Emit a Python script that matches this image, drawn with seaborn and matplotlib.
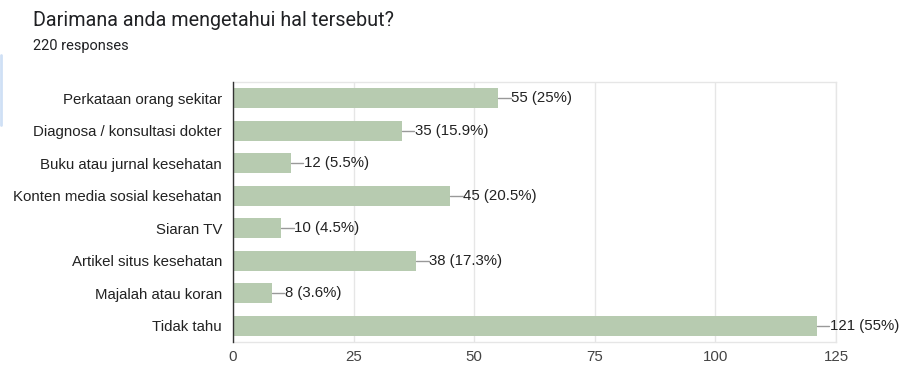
import matplotlib
matplotlib.use("Agg")
import matplotlib.pyplot as plt
import seaborn as sns
import pandas as pd

categories = ["Perkataan orang sekitar", "Diagnosa / konsultasi dokter", "Buku atau jurnal kesehatan",
              "Konten media sosial kesehatan", "Siaran TV", "Artikel situs kesehatan",
              "Majalah atau koran", "Tidak tahu"]
counts = [55, 35, 12, 45, 10, 38, 8, 121]
pct_labels = ["25%", "15.9%", "5.5%", "20.5%", "4.5%", "17.3%", "3.6%", "55%"]
xticks = [0, 25, 50, 75, 100, 125]

sns.set_theme(style="white")
plt.rcParams['font.family'] = ['Liberation Sans', 'DejaVu Sans']

df = pd.DataFrame({"cat": categories, "n": counts})
fig = plt.figure(figsize=(9.05, 3.65), dpi=100)
ax = fig.add_axes([233/905, 1-342/365, (836-233)/905, (342-82)/365])
sns.barplot(data=df, y="cat", x="n", color="#b7cbb0", saturation=1, width=0.62, ax=ax, zorder=3)
for p in ax.patches:
    p.set_edgecolor("none")

ax.set_xlim(0, 125)
ax.set_ylim(7.5, -0.5)
ax.set_xticks(xticks)
ax.set_xticklabels([str(t) for t in xticks], fontsize=10.8, color="#444444")
ax.tick_params(axis="y", labelsize=10.8, labelcolor="#222222", length=0, pad=8)
ax.tick_params(axis="x", length=0, pad=6)
ax.set_xlabel("")
ax.set_ylabel("")
ax.grid(axis="x", color="#e6e6e6", linewidth=1, zorder=0)
for s in ["top", "right", "bottom"]:
    ax.spines[s].set_color("#e6e6e6")
    ax.spines[s].set_linewidth(1)
ax.spines["left"].set_color("#333333")
ax.spines["left"].set_linewidth(1)
ax.spines["left"].set_zorder(5)

for i, (n, pc) in enumerate(zip(counts, pct_labels)):
    ax.plot([n, n + 2.6], [i, i], color="#999999", linewidth=1, zorder=4, clip_on=False)
    ax.text(n + 2.7, i, f"{n} ({pc})", va="center", ha="left", fontsize=10.8, color="#222222")

fig.text(33/905, 1-20/365, "Darimana anda mengetahui hal tersebut?", fontsize=14.2,
         color="#202124", va="center", ha="left", family=["Roboto", "DejaVu Sans"])
fig.text(33/905, 1-46/365, "220 responses", fontsize=10.5, color="#202124",
         va="center", ha="left", family=["Roboto", "DejaVu Sans"])
fig.add_artist(plt.Line2D([1/905, 1/905], [1-55/365, 1-125/365], color="#cfe0f5", linewidth=2))

fig.savefig("out.png", dpi=100)
